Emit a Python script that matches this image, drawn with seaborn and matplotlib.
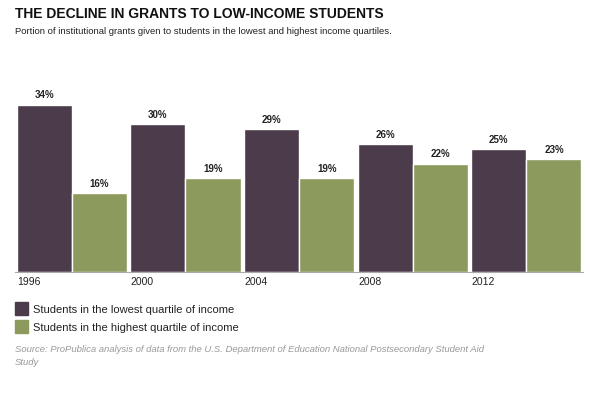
import matplotlib.pyplot as plt
import matplotlib.patches as mpatches
import pandas as pd
import seaborn as sns

years = ["1996", "2000", "2004", "2008", "2012"]
lowest = [34, 30, 29, 26, 25]
highest = [16, 19, 19, 22, 23]
series = ["Students in the lowest quartile of income", "Students in the highest quartile of income"]
colors = ["#4b3b4b", "#8c9a5e"]

df = pd.DataFrame({
    "year": years * 2,
    "value": lowest + highest,
    "group": [series[0]] * 5 + [series[1]] * 5,
})

sns.set_style("white")
plt.rcParams['font.family'] = ['Liberation Sans', 'DejaVu Sans']

fig = plt.figure(figsize=(6, 4.01), dpi=100)
ax = fig.add_axes([0.025, 0.322, 0.947, 0.454])
sns.barplot(data=df, x="year", y="value", hue="group", palette=colors,
            width=0.97, ax=ax, legend=False, saturation=1)

for cont in ax.containers:
    ax.bar_label(cont, labels=[f"{int(v)}%" for v in cont.datavalues],
                 padding=3, fontsize=7, fontweight="bold", color="#222222")

ax.set_ylim(0, 37)
ax.set_xlim(-0.5, 4.5)
ax.set_yticks([])
ax.set_xticks([i - 0.48 for i in range(5)])
ax.set_xticklabels(years, ha="left", fontsize=7.5, color="#222222")
ax.tick_params(axis="x", length=0, pad=4)
ax.set_xlabel("")
ax.set_ylabel("")
for s in ["top", "right", "left"]:
    ax.spines[s].set_visible(False)
ax.spines["bottom"].set_color("#aaaaaa")
ax.spines["bottom"].set_linewidth(0.8)

fig.text(0.025, 0.955, "THE DECLINE IN GRANTS TO LOW-INCOME STUDENTS",
         fontsize=10, fontweight="bold", color="#111111")
fig.text(0.025, 0.915, "Portion of institutional grants given to students in the lowest and highest income quartiles.",
         fontsize=6.8, color="#222222")

for i, (lab, c) in enumerate(zip(series, colors)):
    y = 0.215 - i * 0.045
    fig.patches.append(mpatches.Rectangle((0.025, y), 0.022, 0.033, transform=fig.transFigure,
                                          color=c, figure=fig))
    fig.text(0.055, y + 0.005, lab, fontsize=8, color="#222222")

fig.text(0.025, 0.085, "Source: ProPublica analysis of data from the U.S. Department of Education National Postsecondary Student Aid\nStudy",
         fontsize=6.8, style="italic", color="#999999", va="bottom", linespacing=1.5)

fig.savefig("out.png", dpi=100, facecolor="white")
